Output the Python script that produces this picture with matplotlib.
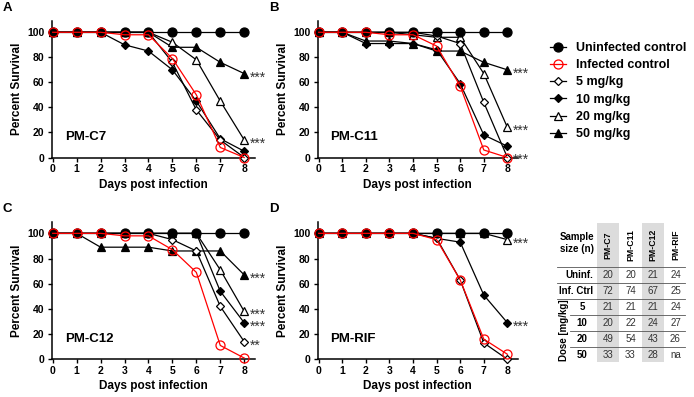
import matplotlib.pyplot as plt
from matplotlib.lines import Line2D

plt.rcParams['font.family'] = ['Liberation Sans', 'DejaVu Sans']
plt.rcParams['font.weight'] = 'bold'
plt.rcParams['axes.labelweight'] = 'bold'

days = [0, 1, 2, 3, 4, 5, 6, 7, 8]
groups = ["Uninfected control", "Infected control", "5 mg/kg", "10 mg/kg", "20 mg/kg", "50 mg/kg"]

# percent survival per compound
c7 = {
    "Uninfected control": [100, 100, 100, 100, 100, 100, 100, 100, 100],
    "Infected control": [100, 100, 100, 98, 98, 79, 50, 8, 0],
    "5 mg/kg": [100, 100, 100, 100, 100, 76, 38, 14, 0],
    "10 mg/kg": [100, 100, 100, 90, 85, 70, 45, 15, 5],
    "20 mg/kg": [100, 100, 100, 100, 100, 92, 78, 45, 14],
    "50 mg/kg": [100, 100, 100, 100, 100, 88, 88, 76, 67],
}
c11 = {
    "Uninfected control": [100, 100, 100, 100, 100, 100, 100, 100, 100],
    "Infected control": [100, 100, 100, 98, 98, 89, 57, 6, 0],
    "5 mg/kg": [100, 100, 100, 100, 100, 97, 91, 44, 0],
    "10 mg/kg": [100, 100, 91, 91, 91, 86, 59, 18, 9],
    "20 mg/kg": [100, 100, 100, 100, 98, 96, 96, 67, 24],
    "50 mg/kg": [100, 100, 93, 93, 91, 85, 85, 76, 70],
}
c12 = {
    "Uninfected control": [100, 100, 100, 100, 100, 100, 100, 100, 100],
    "Infected control": [100, 100, 100, 98, 98, 87, 69, 11, 1],
    "5 mg/kg": [100, 100, 100, 100, 100, 95, 86, 42, 14],
    "10 mg/kg": [100, 100, 100, 100, 100, 100, 100, 54, 29],
    "20 mg/kg": [100, 100, 100, 100, 100, 100, 100, 71, 38],
    "50 mg/kg": [100, 100, 89, 89, 89, 86, 86, 86, 67],
}
rif = {
    "Uninfected control": [100, 100, 100, 100, 100, 100, 100, 100, 100],
    "Infected control": [100, 100, 100, 100, 100, 95, 63, 16, 4],
    "5 mg/kg": [100, 100, 100, 100, 100, 96, 63, 13, 0],
    "10 mg/kg": [100, 100, 100, 100, 100, 96, 93, 51, 29],
    "20 mg/kg": [100, 100, 100, 100, 100, 100, 100, 100, 95],
}

# significance marks at day 8: (survival, label)
stars_c7 = [(67, "***"), (14, "***")]
stars_c11 = [(70, "***"), (24, "***"), (1, "***")]
stars_c12 = [(67, "***"), (38, "***"), (29, "***"), (14, "**")]
stars_rif = [(95, "***"), (29, "***")]

# sample sizes
tab_cols = ["PM-C7", "PM-C11", "PM-C12", "PM-RIF"]
tab_rows = ["Uninf.", "Inf. Ctrl", "5", "10", "20", "50"]
n_c7 = ["20", "72", "21", "20", "49", "33"]
n_c11 = ["20", "74", "21", "22", "54", "33"]
n_c12 = ["21", "67", "21", "24", "43", "28"]
n_rif = ["24", "25", "24", "27", "26", "na"]

styles = {
    "Uninfected control": dict(color='black', marker='o', mfc='black', mec='black', ms=6.5, zorder=5),
    "Infected control": dict(color='red', marker='o', mfc='none', mec='red', ms=6.5, zorder=6),
    "5 mg/kg": dict(color='black', marker='D', mfc='white', mec='black', ms=4.5, zorder=4),
    "10 mg/kg": dict(color='black', marker='D', mfc='black', mec='black', ms=4.5, zorder=3),
    "20 mg/kg": dict(color='black', marker='^', mfc='white', mec='black', ms=6, zorder=2),
    "50 mg/kg": dict(color='black', marker='^', mfc='black', mec='black', ms=6, zorder=1),
}

fig = plt.figure(figsize=(6.94, 3.97), dpi=100)

W, H = 694.0, 397.0
panels = [
    ("A", "PM-C7", c7, stars_c7, (51.5, 21, 255, 157.5)),
    ("B", "PM-C11", c11, stars_c11, (317.5, 21, 518, 157.5)),
    ("C", "PM-C12", c12, stars_c12, (51.5, 222, 255, 359.3)),
    ("D", "PM-RIF", rif, stars_rif, (317.5, 222, 518, 359.3)),
]

for letter, name, data, stars, (x0, y0, x1, y1) in panels:
    ax = fig.add_axes([x0 / W, 1 - y1 / H, (x1 - x0) / W, (y1 - y0) / H])
    for g in groups[::-1]:
        if g in data:
            ax.plot(days, data[g], lw=0.9, mew=0.9, clip_on=False, **styles[g])
    for yv, s in stars:
        ax.text(8.22, yv - 3, s, ha='left', va='center', fontsize=10,
                fontweight='normal', color='#333333', clip_on=False)
    ax.text(0.5, 16, name, ha='left', va='center', fontsize=9.5)
    ax.set_xlim(-0.05, 8.45)
    ax.set_ylim(0, 109)
    ax.set_xticks(days)
    ax.set_yticks([0, 20, 40, 60, 80, 100])
    ax.spines['top'].set_visible(False)
    ax.spines['right'].set_visible(False)
    for sp in ['left', 'bottom']:
        ax.spines[sp].set_linewidth(1.1)
    ax.tick_params(direction='out', length=3, width=1, labelsize=7.5, pad=2)
    ax.set_xlabel("Days post infection", fontsize=8.5, labelpad=3)
    ax.set_ylabel("Percent Survival", fontsize=8.5, labelpad=3)
    fig.text((x0 - 44) / W, 1 - (y0 - 13) / H, letter, ha='center', va='center', fontsize=9.5)

handles = [Line2D([], [], lw=0.9, mew=0.9, **{k: v for k, v in styles[g].items() if k != 'zorder'})
           for g in groups]
fig.legend(handles, groups, loc='upper left', bbox_to_anchor=(550 / W, 1 - 42 / H),
           frameon=False, fontsize=9, handlelength=1.3, handletextpad=0.8,
           labelspacing=0.42, borderaxespad=0, borderpad=0)

# sample size table
tab = fig.add_axes([0, 0, 1, 1])
tab.set_xlim(0, W)
tab.set_ylim(H, 0)
tab.axis('off')

col_x0, col_dx = 608, 22.5
row_y0, row_dy = 275, 16
cols_n = [n_c7, n_c11, n_c12, n_rif]
for j, cname in enumerate(tab_cols):
    cx = col_x0 + j * col_dx
    if j % 2 == 0:
        tab.add_patch(plt.Rectangle((cx - 11, 223), 22, 139, color='#dcdcdc', lw=0, zorder=0))
    tab.text(cx, 245, cname, rotation=90, ha='center', va='center', fontsize=6.3)
    for i, v in enumerate(cols_n[j]):
        tab.text(cx, row_y0 + i * row_dy, v, ha='center', va='center', fontsize=7,
                 fontweight='normal', color='#333333')

tab.text(577, 243, "Sample\nsize (n)", ha='center', va='center', fontsize=7, linespacing=1.2)
for i, rname in enumerate(tab_rows):
    ry = row_y0 + i * row_dy
    if i < 2:
        tab.text(593, ry, rname, ha='right', va='center', fontsize=7)
    else:
        tab.text(582, ry, rname, ha='center', va='center', fontsize=7)
tab.text(564, 330, "Dose [mg/kg]", rotation=90, ha='center', va='center', fontsize=7)

for i in range(len(tab_rows)):
    ly = row_y0 + i * row_dy - row_dy / 2
    xs = 557 if i < 3 else 570
    tab.plot([xs, 685], [ly, ly], color='#555555', lw=0.6, zorder=1)

fig.savefig("out.png", dpi=100)
